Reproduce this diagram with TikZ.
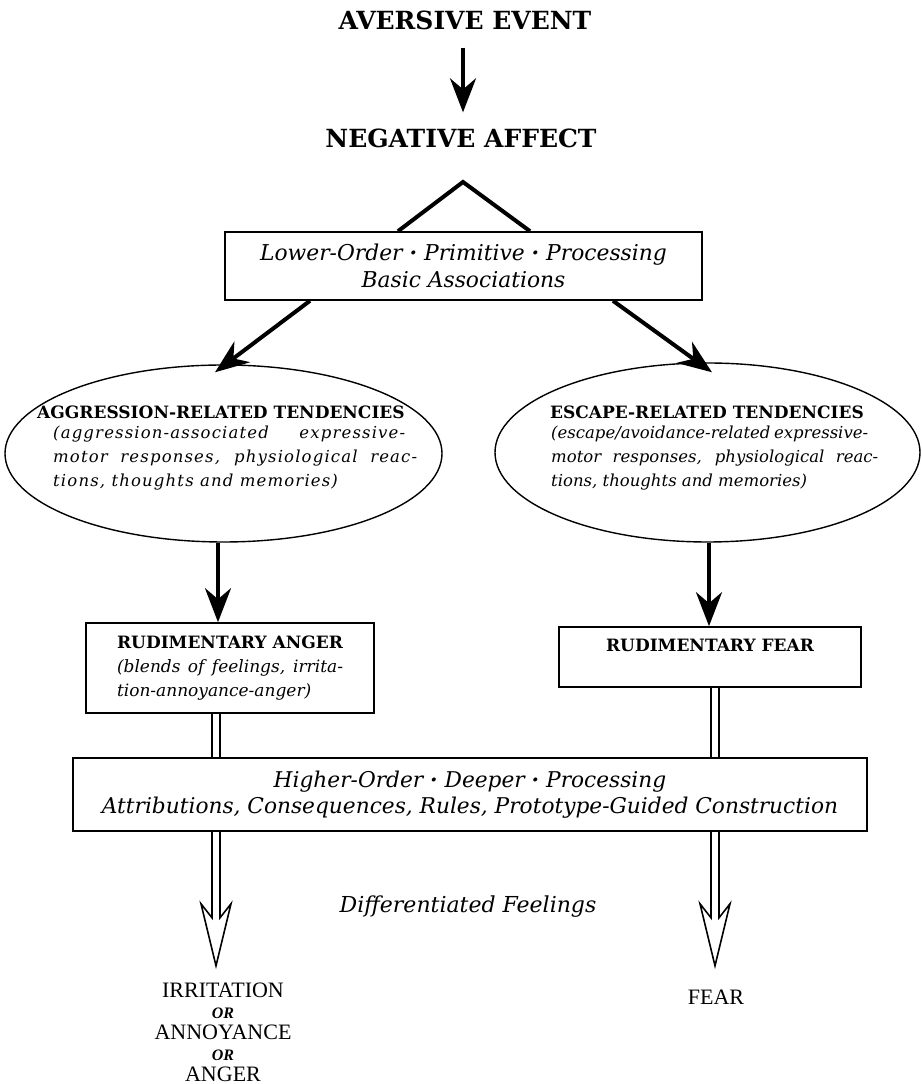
\documentclass[tikz,border=0pt]{standalone}
\usepackage{fontspec}
\setmainfont{DejaVu Serif}
\newfontfamily\labelfont{Liberation Serif}
\usetikzlibrary{arrows.meta,shapes.geometric,calc}
\newcommand\mdot{\textbf{·}}
\begin{document}
\begin{tikzpicture}[x=1pt,y=1pt,
  heavy/.style={line width=4pt,line join=miter},
  bigarrow/.style={line width=4pt,-{Stealth[length=34pt,width=26pt,inset=11pt]}},
  boxed/.style={draw,line width=1.6pt,inner sep=0pt},
  oval/.style={draw,ellipse,line width=1.4pt,inner sep=0pt},
  dbl/.style={line width=1.6pt,line join=miter},
  hdr/.style={font=\fontsize{25}{29}\selectfont\bfseries,inner sep=0pt},
  etitle/.style={font=\fontsize{17}{22}\selectfont\bfseries,inner sep=0pt},
  ebody/.style={font=\fontsize{16.5}{24}\selectfont\itshape,inner sep=0pt,align=left},
  ebodywide/.style={ebody,font=\fontsize{16.5}{24}\selectfont\itshape\addfontfeature{LetterSpace=7}},
  proc/.style={boxed,align=center,font=\fontsize{21.7}{26}\selectfont\itshape},
  feel/.style={font=\labelfont\fontsize{22}{21}\selectfont,inner sep=0pt,align=center}]
\useasboundingbox (0,0) rectangle (921,1084);
\fill[white] (0,0) rectangle (921,1084);

% column positions of the vertical connectors
\coordinate (midcol) at (463,0);
\coordinate (colLs) at (218,0);
\coordinate (colRs) at (709,0);
\coordinate (colL) at (216,0);
\coordinate (colR) at (715,0);

% top of the chain
\node[hdr] (ave) at (465,1064) {AVERSIVE EVENT};
\node[hdr] (neg) at (461,946) {NEGATIVE AFFECT};
\draw[bigarrow,shorten <=18pt,shorten >=16pt] (ave.south -| midcol) -- (neg.north -| midcol);

% lower-order processing
\node[proc,minimum width=477pt,minimum height=68pt,font=\fontsize{21.8}{27}\selectfont\itshape] (low) at (463.5,818)
  {Lower-Order \mdot{} Primitive \mdot{} Processing\\Basic Associations};
\coordinate (apex) at (463,902);
\draw[heavy] ([xshift=-65.5pt]low.north) -- (apex) -- ([xshift=66.5pt]low.north);

% the two tendencies
\node[oval,minimum width=437pt,minimum height=177pt] (ellA) at (223.5,630.5) {};
\node[oval,minimum width=425pt,minimum height=179pt] (ellE) at (707.5,631.5) {};
\draw[bigarrow] ([xshift=-153.5pt]low.south) -- ([xshift=-8.5pt,yshift=-8pt]ellA.north);
\draw[bigarrow] ([xshift=149.5pt]low.south) -- ([xshift=4.5pt,yshift=-10pt]ellE.north);

\node[etitle] (ellAt) at (221,672) {AGGRESSION-RELATED TENDENCIES};
\node[ebodywide,anchor=north west] (ellAb) at (53,658.5)
  {\makebox[352pt][s]{(aggression-associated expressive-}\\
   \makebox[364pt][s]{motor responses, physiological reac-}\\
   tions, thoughts and memories)};
\node[etitle] (ellEt) at (707,672) {ESCAPE-RELATED TENDENCIES};
\node[ebody,anchor=north west] (ellEb) at (551,658.5)
  {\makebox[316pt][s]{(escape/avoidance-related expressive-}\\
   \makebox[327pt][s]{motor responses, physiological reac-}\\
   tions, thoughts and memories)};

% rudimentary feelings
\node[boxed,minimum width=288pt,minimum height=90pt,align=center,
      font=\fontsize{17}{24}\selectfont] (anger) at (230,416)
  {{\bfseries RUDIMENTARY ANGER}\\
   \makebox[226pt][s]{\itshape (blends of feelings, irrita-}\\
   \makebox[226pt][l]{\itshape tion-annoyance-anger)}};
\node[boxed,minimum width=302pt,minimum height=60pt] (fear) at (710,427) {};
\node[etitle] (fearlab) at (710,439) {RUDIMENTARY FEAR};

\draw[bigarrow] (ellA.south -| colLs) -- (anger.north -| colLs);
\draw[bigarrow] (ellE.south -| colRs) -- (fear.north -| colRs);

% higher-order processing
\node[proc,minimum width=794pt,minimum height=73pt] (big) at (470,289.5)
  {Higher-Order \mdot{} Deeper \mdot{} Processing\\Attributions, Consequences, Rules, Prototype-Guided Construction};

\foreach \dx in {-4,4} {
  \draw[dbl] ([xshift=\dx pt]anger.south -| colL) -- ([xshift=\dx pt]big.north -| colL);
  \draw[dbl] ([xshift=\dx pt]fear.south -| colR) -- ([xshift=\dx pt]big.north -| colR);
}

% hollow double arrows to the differentiated feelings
\draw[dbl] ([xshift=-4pt]big.south -| colL) -- ++(0,-86) -- ++(-11,14) -- ++(15,-62)
  -- ++(15,62) -- ++(-11,-14) -- ++(0,86);
\draw[dbl] ([xshift=-4pt]big.south -| colR) -- ++(0,-86) -- ++(-11,14) -- ++(15,-62)
  -- ++(15,62) -- ++(-11,-14) -- ++(0,86);

\node[font=\fontsize{22}{26}\selectfont\itshape,inner sep=0pt] (diff) at (468,177) {Differentiated Feelings};
\node[feel,anchor=north] (irr) at (223,101.5)
  {IRRITATION\\{\fontsize{16}{21}\selectfont\itshape\bfseries OR}\\ANNOYANCE\\
   {\fontsize{16}{21}\selectfont\itshape\bfseries OR}\\ANGER};
\node[feel] (fearw) at (716,87) {FEAR};
\end{tikzpicture}
\end{document}
